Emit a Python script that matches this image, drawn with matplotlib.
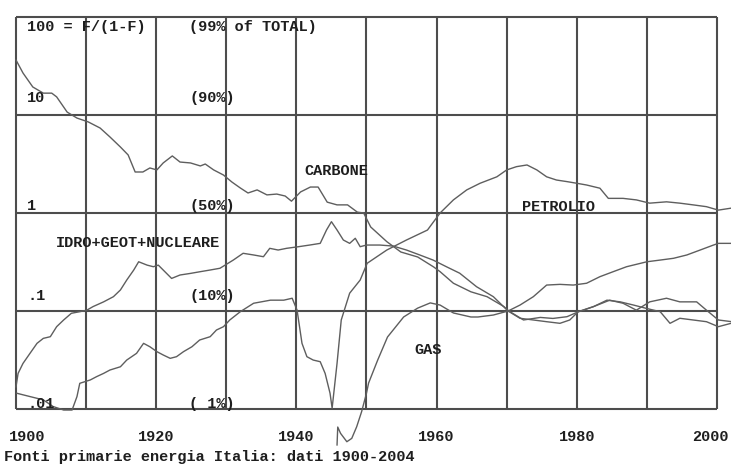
import numpy as np
import matplotlib
matplotlib.use("Agg")
import matplotlib.pyplot as plt

# F/(1-F), fonti primarie Italia 1900-2004
carbone_anni = [1900.0, 1901.0, 1902.4, 1903.9, 1905.1, 1905.8, 1907.3, 1908.7, 1910.3, 1912.0,
                1913.4, 1914.9, 1916.0, 1917.0, 1918.1, 1919.1, 1920.1, 1921.0, 1922.3, 1923.4,
                1924.9, 1926.3, 1927.0, 1928.2, 1929.6, 1930.8, 1932.0, 1933.1, 1934.4, 1935.8,
                1937.2, 1938.4, 1939.3, 1940.6, 1942.0, 1943.1, 1944.4, 1945.8, 1947.3, 1948.7,
                1949.6, 1950.6, 1952.9, 1954.9, 1957.3, 1959.6, 1960.5, 1962.4, 1964.9, 1967.2,
                1969.6, 1970.3, 1972.4, 1974.8, 1976.6, 1978.6, 1980.2, 1982.4, 1984.7, 1986.6,
                1988.5, 1990.4, 1992.8, 1994.7, 1997.1, 1998.5, 2000.2, 2002.0, 2004.0]
carbone = [36.4, 26.8, 19.3, 16.7, 16.7, 15.3, 10.7, 9.3, 8.5, 7.36,
           5.97, 4.71, 3.91, 2.62, 2.62, 2.88, 2.75, 3.24, 3.82, 3.31,
           3.24, 3.02, 3.16, 2.75, 2.44, 2.07, 1.80, 1.60, 1.72, 1.53,
           1.56, 1.49, 1.32, 1.64, 1.84, 1.84, 1.29, 1.21, 1.21, 1.02,
           1.0, 0.72, 0.51, 0.40, 0.356, 0.281, 0.252, 0.192, 0.157, 0.140,
           0.111, 0.100, 0.081, 0.086, 0.084, 0.0875, 0.098, 0.111, 0.129, 0.120,
           0.102, 0.124, 0.135, 0.124, 0.124, 0.102, 0.081, 0.078, 0.080]

idro_anni = [1900.0, 1900.3, 1901.0, 1902.0, 1903.0, 1903.9, 1904.9, 1905.8, 1906.8, 1907.9,
             1909.1, 1910.1, 1911.0, 1912.5, 1913.9, 1914.9, 1915.8, 1916.8, 1917.5, 1918.7,
             1919.6, 1920.3, 1921.0, 1922.2, 1923.4, 1924.9, 1926.3, 1927.7, 1929.1, 1931.0,
             1932.4, 1933.9, 1935.3, 1936.2, 1937.4, 1938.6, 1940.3, 1941.9, 1943.4, 1944.3,
             1945.0, 1945.8, 1946.7, 1947.6, 1948.4, 1949.1, 1950.0, 1951.9, 1953.8, 1955.7,
             1957.6, 1959.5, 1961.4, 1963.3, 1965.7, 1968.1, 1970.2, 1971.9, 1973.8, 1975.7,
             1977.6, 1979.0, 1980.2, 1982.4, 1984.3, 1986.2, 1988.1, 1990.0, 1991.9, 1993.3,
             1994.7, 1996.6, 1998.5, 2000.2, 2002.0, 2004.0]
idro = [0.0168, 0.0231, 0.0292, 0.037, 0.0468, 0.0526, 0.0547, 0.0692, 0.081, 0.0948,
        0.0984, 0.102, 0.111, 0.124, 0.140, 0.164, 0.207, 0.262, 0.318, 0.294,
        0.283, 0.294, 0.262, 0.215, 0.233, 0.242, 0.252, 0.262, 0.273, 0.331,
        0.388, 0.373, 0.358, 0.436, 0.419, 0.436, 0.453, 0.471, 0.49, 0.671,
        0.815, 0.671, 0.53, 0.49, 0.552, 0.453, 0.471, 0.471, 0.46, 0.419,
        0.373, 0.331, 0.283, 0.243, 0.177, 0.140, 0.100, 0.0843, 0.081, 0.0778,
        0.0749, 0.081, 0.0984, 0.111, 0.129, 0.124, 0.115, 0.106, 0.0984, 0.0749,
        0.0843, 0.081, 0.0778, 0.0692, 0.0749, 0.072]

petrolio_anni = [1900.1, 1902.0, 1903.9, 1905.3, 1906.8, 1908.0, 1908.7, 1909.1, 1910.6, 1911.5,
                 1912.5, 1913.4, 1914.9, 1915.8, 1917.2, 1918.2, 1919.1, 1920.1, 1921.0, 1922.0,
                 1922.9, 1923.9, 1925.1, 1926.2, 1927.7, 1928.6, 1929.6, 1930.5, 1932.0, 1933.9,
                 1936.3, 1938.2, 1939.4, 1940.1, 1940.8, 1941.5, 1942.4, 1943.4, 1944.1, 1944.8,
                 1945.1, 1945.8, 1946.4, 1947.6, 1949.1, 1950.1, 1952.9, 1955.7, 1958.7, 1960.5,
                 1962.4, 1964.3, 1966.2, 1968.6, 1970.0, 1971.4, 1972.9, 1974.3, 1975.7, 1977.1,
                 1978.6, 1980.0, 1981.4, 1983.3, 1984.5, 1986.6, 1988.5, 1990.4, 1992.8, 1994.7,
                 1996.6, 1998.5, 2000.2, 2002.0, 2004.0]
petrolio = [0.0145, 0.0134, 0.0124, 0.0106, 0.00977, 0.00977, 0.0134, 0.0183, 0.0198, 0.0214,
            0.0231, 0.025, 0.027, 0.0316, 0.037, 0.0468, 0.0432, 0.0385, 0.0356, 0.0329,
            0.0342, 0.0385, 0.0432, 0.0506, 0.0547, 0.064, 0.0692, 0.081, 0.0984, 0.12,
            0.129, 0.129, 0.135, 0.102, 0.0468, 0.0342, 0.0316, 0.0304, 0.0231, 0.0145,
            0.0102, 0.0292, 0.081, 0.152, 0.207, 0.307, 0.419, 0.53, 0.67, 1.0,
            1.36, 1.72, 2.01, 2.34, 2.75, 2.97, 3.09, 2.75, 2.34, 2.17,
            2.09, 2.01, 1.93, 1.79, 1.41, 1.41, 1.36, 1.26, 1.30, 1.26,
            1.21, 1.16, 1.07, 1.12, 1.10]

gas_anni = [1945.8, 1945.9, 1946.3, 1947.2, 1947.9, 1948.6, 1949.3, 1950.0, 1950.3, 1951.6,
            1953.0, 1955.3, 1957.3, 1959.1, 1960.5, 1962.4, 1964.9, 1965.9, 1968.1, 1970.2,
            1971.9, 1973.8, 1975.7, 1977.6, 1979.5, 1981.4, 1983.3, 1985.2, 1987.1, 1990.0,
            1991.9, 1993.8, 1995.7, 1997.6, 1999.5, 2000.2, 2002.0, 2004.0]
gas = [0.0043, 0.00655, 0.00565, 0.00464, 0.00502, 0.00659, 0.00937, 0.0145, 0.0184, 0.0316,
       0.0543, 0.0869, 0.107, 0.121, 0.115, 0.0955, 0.0869, 0.0869, 0.091, 0.100,
       0.115, 0.14, 0.184, 0.187, 0.184, 0.192, 0.224, 0.252, 0.283, 0.318,
       0.331, 0.345, 0.373, 0.419, 0.471, 0.49, 0.49, 0.50]

griglia_y = [100, 10, 1, 0.1, 0.01]
griglia_x = list(range(1900, 2001, 10))
etichette_y = ["100 = F/(1-F)", "10", "1", ".1", ".01"]
etichette_pct = ["(99% of TOTAL)", "(90%)", "(50%)", "(10%)", "( 1%)"]
anni_tick = [1900, 1920, 1940, 1960, 1980, 2000]

plt.rcParams['font.family'] = ['Liberation Mono', 'DejaVu Sans Mono']
fig = plt.figure(figsize=(7.31, 4.65), dpi=100)
ax = fig.add_axes([0, 0, 1, 1])
ax.set_yscale('log')
ax.set_xlim(1897.72, 2002.0)
ax.set_ylim(10 ** -2.571, 10 ** 2.173)
ax.axis('off')

gc = '#4d4d4d'
ax.hlines(griglia_y, 1900, 2000, color=gc, lw=1.5)
ax.vlines(griglia_x, 0.01, 100, color=gc, lw=1.5)

lc = '#5e5e5e'
for xs, ys in [(carbone_anni, carbone), (idro_anni, idro), (petrolio_anni, petrolio), (gas_anni, gas)]:
    ax.plot(xs, ys, color=lc, lw=1.0)

tk = dict(fontsize=11, fontweight='bold', color='#1e1e1e', va='center')
# label positions near the grid lines
pos_y = [79, 14.9, 1.18, 0.142, 0.0112]
for lab, pct, yv in zip(etichette_y, etichette_pct, pos_y):
    ax.text(1901.6, yv, lab, ha='left', **tk)
    ax.text(1924.7, yv, pct, ha='left', **tk)

ax.text(1941.2, 2.69, "CARBONE", ha='left', **tk)
ax.text(1972.2, 1.16, "PETROLIO", ha='left', **tk)
ax.text(1905.7, 0.498, "IDRO+GEOT+NUCLEARE", ha='left', **tk)
ax.text(1956.8, 0.04, "GAS", ha='left', **tk)

for a in anni_tick:
    xa = a
    if a == 1900:
        xa = 1901.6
    if a == 2000:
        xa = 1999.0
    ax.text(xa, 0.00518, str(a), ha='center', **tk)
ax.text(1898.3, 0.00324, "Fonti primarie energia Italia: dati 1900-2004", ha='left', **tk)

fig.savefig("out.png", dpi=100, facecolor='white')
